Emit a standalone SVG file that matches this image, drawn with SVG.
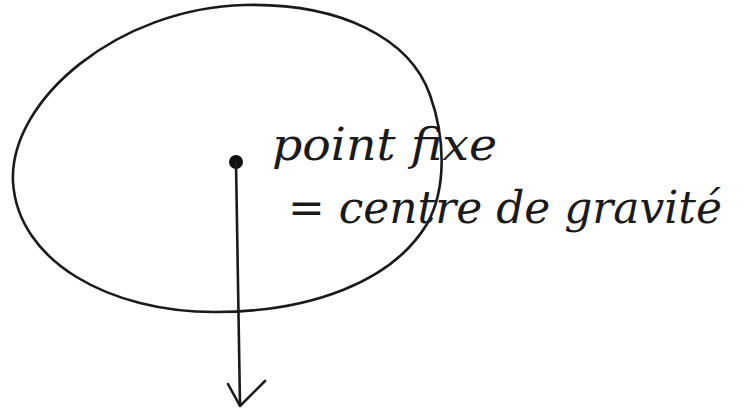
<svg xmlns="http://www.w3.org/2000/svg" width="750" height="415" viewBox="0 0 750 415">
<style>
.ink{fill:none;stroke:#1a1a1a;stroke-width:2.6;stroke-linecap:round;stroke-linejoin:round}
.hand{font-family:"DejaVu Serif","Liberation Serif",serif;font-style:italic;font-size:44px;fill:#1a1a1a}
</style>
<rect width="750" height="415" fill="#ffffff"/>
<g id="body">
<path class="ink" d="M245,5 C340,3 410,38 430,95 C446,140 446,190 427,224 C392,282 310,312 215,312 C110,312 18,262 13,182 C9,100 118,8 245,5 Z"/>
</g>
<g id="point">
<circle cx="236" cy="162" r="7" fill="#111"/>
</g>
<g id="labels">
<text class="hand" x="272" y="160" textLength="225" lengthAdjust="spacingAndGlyphs">point fixe</text>
<text class="hand" x="288" y="223" textLength="434" lengthAdjust="spacingAndGlyphs">= centre de gravité</text>
</g>
<g id="connectors">
<path class="ink" d="M236,162 L240,405"/>
<path class="ink" d="M228,384 L240,406 L265,381"/>
</g>
</svg>
